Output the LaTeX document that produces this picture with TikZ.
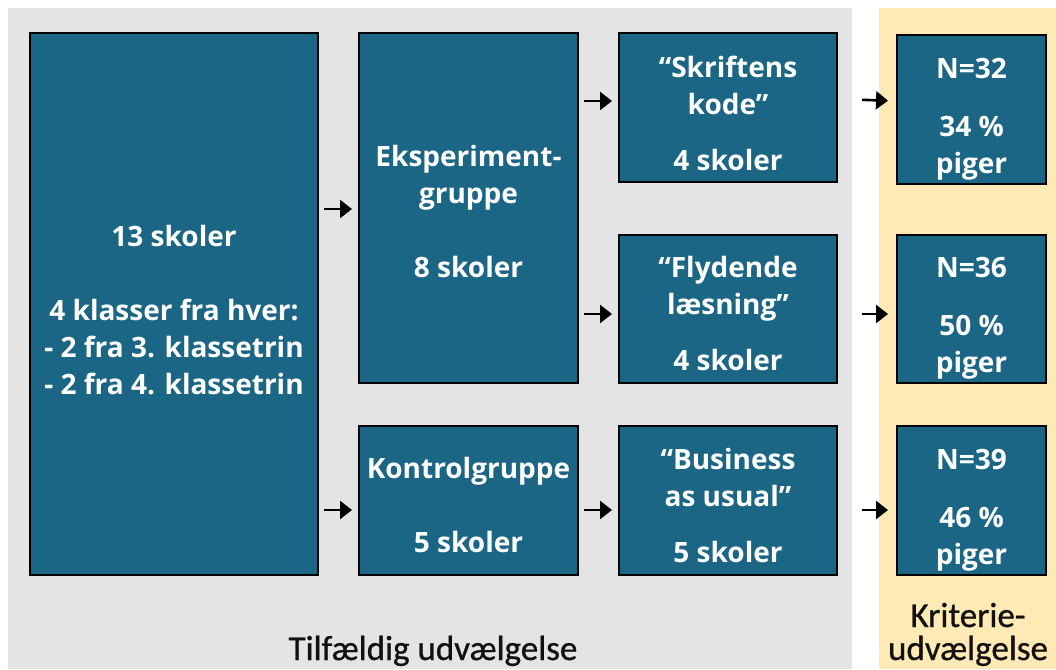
\documentclass[tikz,border=0pt]{standalone}
\usepackage{fontspec}
\setmainfont{Open Sans}
\newfontfamily\labfont{Carlito}[BoldFont=Carlito, BoldFeatures={FakeBold=0.8}]
\usetikzlibrary{arrows.meta}
\definecolor{boxblue}{RGB}{27,101,133}
\definecolor{bggray}{RGB}{228,228,228}
\definecolor{bgyellow}{RGB}{255,233,180}
\definecolor{labtext}{RGB}{17,17,17}
\tikzset{
  blk/.style={draw=black, line width=2pt, fill=boxblue, inner sep=0pt},
  txt/.style={text=white, align=center, font=\fontsize{28}{37}\selectfont\bfseries, inner sep=0pt},
  arr/.style={line width=2.6pt, -{Triangle[length=12pt,width=18pt]}},
  lab/.style={text=labtext, align=center, font=\labfont\bfseries\fontsize{35}{33}\selectfont}
}
\begin{document}
\begin{tikzpicture}[x=1pt,y=-1pt]
\useasboundingbox (0,0) rectangle (1056,669);
\fill[bggray] (8,8) rectangle (852,669);
\fill[bgyellow] (879,8) rectangle (1056,669);
\node[blk, minimum width=288pt, minimum height=542pt] (big) at (174,304) {};
\node[blk, minimum width=219pt, minimum height=350pt] (eks) at (468.5,208) {};
\node[blk, minimum width=219pt, minimum height=149pt] (kon) at (468.5,500.5) {};
\node[blk, minimum width=218pt, minimum height=149pt] (skr) at (728,107.5) {};
\node[blk, minimum width=218pt, minimum height=148pt] (fly) at (728,309) {};
\node[blk, minimum width=218pt, minimum height=149pt] (bus) at (728,500.5) {};
\node[blk, minimum width=149pt, minimum height=149pt] (n32) at (971.5,109.5) {};
\node[blk, minimum width=149pt, minimum height=148pt] (n36) at (971.5,309) {};
\node[blk, minimum width=149pt, minimum height=149pt] (n39) at (971.5,500.5) {};
\node[txt] (bigt) at ([yshift=-6pt]big.center)
  {13 skoler\\[37pt]4 klasser fra hver:\\- 2 fra 3. klassetrin\\- 2 fra 4. klassetrin};
\node[txt] (ekst) at ([yshift=-3.5pt]eks.center) {Eksperiment-\\gruppe\\[37pt]8 skoler};
\node[txt] (kont) at ([yshift=-4pt]kon.center) {Kontrolgruppe\\[37pt]5 skoler};
\node[txt] (skrt) at ([yshift=-6pt]skr.center) {``Skriftens\\kode''\\[19pt]4 skoler};
\node[txt] (flyt) at ([yshift=-4.5pt]fly.center) {``Flydende\\læsning''\\[19pt]4 skoler};
\node[txt] (bust) at ([yshift=-5pt]bus.center) {``Business\\as usual''\\[19pt]5 skoler};
\node[txt] (n32t) at ([yshift=-9.5pt]n32.center) {N=32\\[21pt]34 \%\\piger};
\node[txt] (n36t) at ([yshift=-9pt]n36.center) {N=36\\[21pt]50 \%\\piger};
\node[txt] (n39t) at ([yshift=-10pt]n39.center) {N=39\\[21pt]46 \%\\piger};
\draw[arr, shorten <=5pt, shorten >=6pt] ([yshift=-1pt]big.east |- eks) -- ([yshift=-1pt]eks.west);
\draw[arr, shorten <=5pt, shorten >=6pt] ([yshift=-9.5pt]big.east |- kon) -- ([yshift=-9.5pt]kon.west);
\draw[arr, shorten <=5pt, shorten >=6pt] ([yshift=6.5pt]eks.east |- skr) -- ([yshift=6.5pt]skr.west);
\draw[arr, shorten <=5pt, shorten >=6pt] ([yshift=-5pt]eks.east |- fly) -- ([yshift=-5pt]fly.west);
\draw[arr, shorten <=5pt, shorten >=6pt] ([yshift=-9.5pt]kon.east) -- ([yshift=-9.5pt]bus.west);
\draw[arr, shorten <=24pt, shorten >=8pt] ([yshift=8.5pt]skr.east) -- ([yshift=8.5pt]n32.west);
\draw[arr, shorten <=24pt, shorten >=8pt] ([yshift=-5pt]fly.east) -- ([yshift=-5pt]n36.west);
\draw[arr, shorten <=24pt, shorten >=8pt] ([yshift=-9.5pt]bus.east) -- ([yshift=-9.5pt]n39.west);
\node[lab, anchor=base] (tilf) at (433,660) {Tilfældig udvælgelse};
\node[lab, anchor=base] (krit) at (968,660) {Kriterie-\\udvælgelse};
\end{tikzpicture}
\end{document}
